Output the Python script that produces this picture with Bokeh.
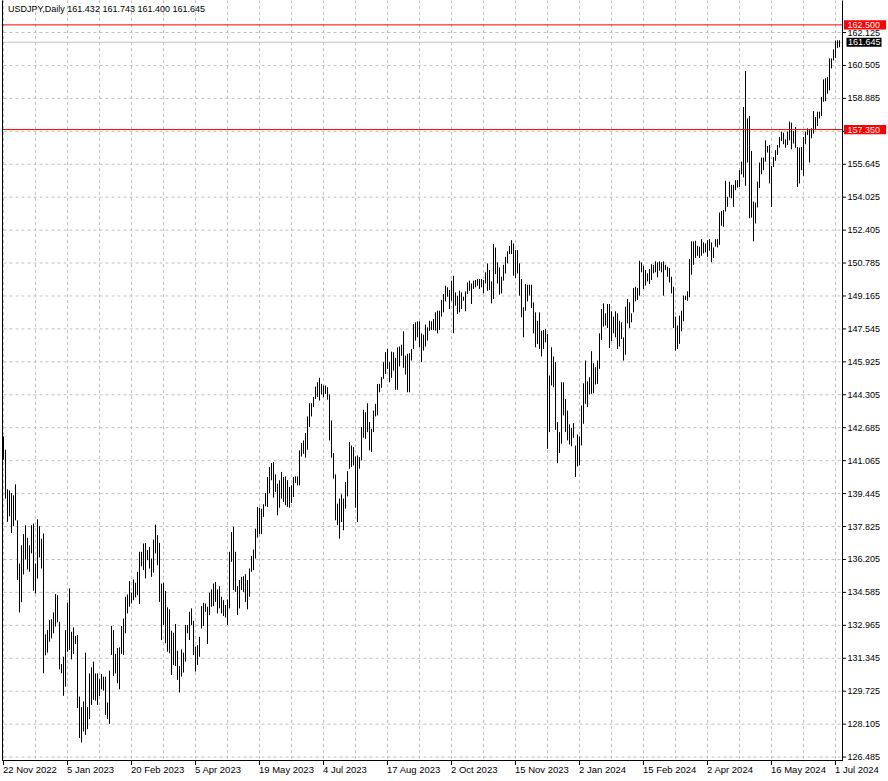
from bokeh.plotting import figure
from bokeh.models import Range1d, ColumnDataSource
from bokeh.core.properties import value
from bokeh.embed import file_html
from bokeh.resources import INLINE

symbol = "USDJPY,Daily"
last_ohlc = [161.432, 161.743, 161.400, 161.645]

# daily highs / lows, one bar per trading day from 22 Nov 2022 to 3 Jul 2024
high = [
    142.26, 141.60, 139.66, 139.60, 139.47, 139.36, 139.90, 138.13, 136.00, 136.90,
    137.45, 137.89, 137.27, 136.90, 137.89, 137.97, 136.00, 138.18, 137.84, 137.23,
    137.48, 132.52, 132.73, 133.22, 133.26, 133.60, 134.50, 134.45, 133.14, 131.06,
    131.42, 132.73, 134.07, 134.78, 132.65, 132.86, 132.44, 132.49, 129.46, 128.94,
    129.22, 131.62, 128.94, 130.60, 130.90, 131.18, 130.60, 130.60, 130.31, 130.57,
    130.44, 130.44, 129.17, 130.74, 132.93, 132.73, 131.56, 131.85, 131.88, 132.93,
    133.30, 134.37, 134.48, 135.14, 134.57, 135.22, 135.06, 135.60, 136.58, 136.58,
    136.99, 137.02, 136.66, 136.82, 136.25, 137.18, 137.92, 137.40, 137.02, 135.02,
    135.06, 134.66, 133.85, 133.75, 132.70, 132.60, 133.03, 131.72, 130.96, 131.78,
    131.62, 132.98, 132.98, 133.63, 133.80, 133.19, 131.92, 131.99, 132.40, 133.91,
    134.07, 134.04, 133.88, 134.57, 134.73, 135.02, 135.10, 134.73, 134.89, 134.37,
    134.20, 133.96, 134.24, 136.58, 137.56, 137.81, 136.58, 134.89, 135.19, 135.35,
    135.38, 135.48, 135.19, 135.76, 136.37, 136.69, 137.72, 138.79, 138.75, 138.70,
    138.92, 139.47, 140.26, 140.75, 140.95, 141.00, 140.39, 139.93, 140.10, 140.51,
    140.26, 140.29, 140.10, 139.77, 139.85, 140.26, 140.29, 140.29, 141.57, 141.93,
    142.06, 142.42, 143.24, 143.89, 143.89, 144.19, 144.71, 144.92, 145.14, 144.84,
    144.76, 144.76, 144.68, 144.32, 143.04, 141.44, 140.39, 138.95, 139.20, 139.41,
    139.20, 140.01, 140.55, 141.98, 141.81, 141.73, 141.27, 141.32, 141.24, 142.72,
    143.57, 143.45, 143.89, 142.96, 142.63, 143.53, 143.86, 144.84, 144.84, 145.17,
    145.91, 146.40, 146.56, 145.91, 146.43, 146.40, 146.12, 146.64, 146.68, 146.77,
    147.43, 146.23, 146.32, 146.35, 146.56, 147.79, 147.87, 147.92, 147.92, 147.33,
    147.26, 147.76, 147.62, 147.95, 147.92, 148.03, 148.36, 148.44, 148.44, 148.97,
    149.26, 149.67, 149.59, 149.46, 149.92, 150.16, 149.34, 149.18, 149.42, 149.34,
    149.13, 149.39, 149.83, 149.92, 149.78, 149.92, 149.95, 150.00, 150.00, 150.00,
    149.95, 150.33, 150.77, 150.44, 149.88, 151.72, 151.55, 150.82, 150.57, 150.11,
    150.70, 151.09, 151.36, 151.63, 151.91, 151.75, 151.42, 151.42, 150.77, 150.00,
    148.61, 149.75, 149.72, 149.72, 149.72, 148.85, 148.36, 147.95, 148.36, 147.46,
    147.49, 147.54, 147.30, 145.25, 146.64, 146.19, 145.91, 142.96, 142.47, 144.92,
    144.92, 144.10, 143.53, 142.85, 142.68, 142.91, 141.81, 142.35, 142.26, 143.78,
    144.87, 145.99, 144.97, 145.17, 146.45, 145.86, 145.66, 145.99, 147.33, 148.52,
    148.80, 148.31, 148.77, 148.77, 148.41, 148.15, 148.41, 148.31, 147.95, 147.87,
    147.13, 148.64, 149.02, 148.85, 148.31, 149.56, 149.62, 149.56, 150.90, 150.82,
    150.65, 150.44, 150.28, 150.49, 150.73, 150.70, 150.87, 150.82, 150.87, 150.82,
    150.87, 150.70, 150.60, 150.54, 150.11, 149.62, 148.15, 147.71, 148.20, 148.44,
    149.18, 149.18, 149.39, 150.98, 151.85, 151.85, 151.88, 151.63, 151.59, 151.96,
    151.80, 151.75, 151.91, 151.96, 151.80, 151.55, 151.96, 151.96, 153.27, 153.35,
    153.39, 154.83, 154.04, 154.79, 154.63, 154.63, 154.86, 154.86, 155.35, 155.77,
    158.46, 160.23, 157.90, 158.02, 156.30, 153.81, 153.76, 154.79, 155.73, 155.97,
    155.97, 156.82, 156.54, 156.59, 155.56, 156.00, 156.33, 156.59, 156.99, 157.25,
    157.20, 156.87, 157.25, 157.74, 157.69, 157.28, 157.48, 156.49, 156.46, 156.49,
    156.99, 157.25, 157.41, 157.36, 157.41, 158.26, 157.97, 158.23, 158.23, 158.95,
    159.82, 159.87, 159.93, 160.85, 160.85, 161.29, 161.73, 161.74, 161.743,
]
low = [
    141.11, 139.20, 138.05, 138.33, 137.51, 137.84, 138.13, 135.20, 133.60, 134.10,
    135.47, 136.20, 135.71, 135.60, 136.50, 134.67, 134.53, 135.27, 136.30, 135.76,
    130.61, 131.49, 131.62, 132.16, 132.32, 132.57, 132.90, 133.11, 130.80, 130.61,
    129.50, 129.95, 131.67, 131.75, 131.29, 131.56, 132.05, 128.89, 127.42, 127.20,
    127.74, 127.58, 127.86, 128.35, 129.05, 129.30, 129.26, 129.05, 129.49, 129.82,
    129.75, 128.56, 128.35, 128.12, 131.51, 130.47, 130.60, 130.12, 129.82, 131.56,
    131.51, 132.57, 133.55, 133.88, 134.04, 134.20, 134.34, 134.45, 134.01, 135.87,
    135.68, 135.27, 136.17, 135.76, 135.35, 135.55, 136.50, 135.92, 134.12, 132.24,
    132.98, 132.08, 131.67, 131.59, 130.52, 131.01, 130.96, 130.28, 129.66, 130.44,
    130.64, 131.18, 132.57, 132.24, 132.98, 131.50, 130.69, 131.01, 131.42, 132.81,
    132.93, 133.63, 132.05, 133.47, 133.88, 133.91, 134.12, 133.55, 133.80, 133.55,
    133.42, 133.35, 132.98, 133.80, 136.09, 134.70, 134.61, 133.47, 133.80, 134.70,
    134.60, 134.12, 133.75, 134.37, 135.60, 135.68, 136.25, 137.28, 137.45, 137.45,
    138.30, 138.82, 138.79, 139.47, 140.10, 139.25, 139.52, 138.38, 138.75, 139.20,
    139.03, 138.87, 138.79, 138.75, 138.98, 139.28, 139.97, 139.85, 139.85, 141.27,
    141.40, 141.21, 141.60, 142.72, 143.24, 143.70, 144.10, 144.19, 144.02, 144.32,
    144.19, 144.35, 144.06, 142.06, 141.21, 140.18, 138.13, 137.89, 137.23, 138.05,
    137.64, 138.70, 139.31, 140.67, 140.75, 140.83, 138.75, 138.05, 140.67, 141.08,
    142.19, 142.14, 142.47, 141.57, 141.49, 142.47, 143.24, 143.29, 144.43, 144.65,
    145.09, 145.33, 145.58, 144.92, 145.14, 145.50, 144.55, 144.55, 145.70, 146.23,
    145.63, 145.30, 144.43, 144.43, 145.99, 146.56, 146.97, 147.13, 146.64, 145.91,
    146.48, 146.68, 146.97, 147.46, 147.49, 147.49, 147.46, 147.33, 147.49, 148.15,
    148.36, 148.90, 149.13, 148.52, 148.93, 147.33, 148.69, 148.28, 148.36, 148.52,
    148.93, 148.41, 149.26, 149.42, 148.77, 149.51, 149.59, 149.67, 149.51, 149.59,
    149.29, 149.78, 149.42, 149.46, 148.80, 149.02, 150.24, 149.78, 149.23, 149.29,
    149.92, 150.27, 150.77, 151.23, 151.23, 150.16, 150.05, 150.27, 149.18, 148.12,
    147.13, 148.44, 148.90, 149.18, 148.57, 147.33, 146.64, 146.81, 146.56, 146.19,
    146.56, 146.89, 141.65, 142.47, 144.76, 144.68, 142.58, 140.94, 141.44, 141.90,
    143.29, 142.47, 142.06, 141.86, 141.77, 142.19, 140.26, 140.78, 140.83, 141.81,
    142.88, 143.86, 143.70, 144.32, 144.35, 144.38, 144.81, 144.84, 145.58, 147.00,
    147.66, 147.71, 147.59, 146.61, 146.94, 147.33, 147.13, 146.56, 146.68, 147.05,
    145.99, 146.28, 147.82, 147.59, 147.87, 148.36, 148.90, 148.97, 149.18, 150.33,
    149.51, 149.67, 149.88, 149.75, 149.95, 150.28, 150.33, 150.08, 150.41, 150.33,
    149.18, 150.44, 150.11, 149.83, 149.29, 147.59, 146.48, 146.56, 146.81, 147.43,
    147.92, 148.97, 148.93, 149.10, 150.21, 150.70, 151.03, 151.14, 151.03, 151.14,
    151.26, 151.31, 151.09, 151.39, 150.82, 151.03, 151.59, 151.55, 151.68, 152.62,
    152.57, 153.32, 153.55, 154.01, 153.97, 153.55, 154.37, 154.50, 154.53, 155.15,
    154.99, 154.58, 155.73, 152.99, 153.02, 151.85, 152.73, 153.52, 154.47, 155.15,
    155.35, 155.77, 156.22, 154.70, 153.55, 155.51, 155.81, 156.10, 156.46, 156.79,
    156.63, 156.46, 156.59, 156.82, 156.38, 156.66, 156.46, 154.53, 154.70, 155.35,
    155.07, 156.63, 157.08, 155.73, 156.92, 157.15, 157.36, 157.53, 157.90, 158.02,
    158.72, 158.75, 159.11, 159.28, 160.36, 160.75, 160.88, 161.37, 161.400,
]

price_ticks = [126.485, 128.105, 129.725, 131.345, 132.965, 134.585, 136.205,
               137.825, 139.445, 141.065, 142.685, 144.305, 145.925, 147.545,
               149.165, 150.785, 152.405, 154.025, 155.645, 157.265, 158.885,
               160.505, 162.125]
date_ticks = [0, 32, 64, 96, 128, 160, 192, 224, 256, 288, 320, 352, 384, 416]
date_labels = ["22 Nov 2022", "5 Jan 2023", "20 Feb 2023", "5 Apr 2023",
               "19 May 2023", "4 Jul 2023", "17 Aug 2023", "2 Oct 2023",
               "15 Nov 2023", "2 Jan 2024", "15 Feb 2024", "2 Apr 2024",
               "16 May 2024", "1 Jul 2024"]
grid_x = [0, 16, 32, 48, 64, 80, 96, 112, 128, 144, 160, 176, 192, 208, 224,
          240, 256, 272, 288, 304, 320, 336, 352, 368, 384, 400, 416]
red_levels = [162.500, 157.350]
bid = last_ohlc[3]

# ---------------------------------------------------------------- layout
W, H = 888, 781
PX_PER_BAR = 2.0
PX_PER_YEN = 20.33
OFF = 0.5                      # half-pixel shift so 1px strokes land crisp
XL = -1.75 + OFF / PX_PER_BAR
XR = XL + W / PX_PER_BAR
YT = price_ticks[-1] + 32.0 / PX_PER_YEN
YB = YT - H / PX_PER_YEN


def sx(px):
    return XL + (px - OFF) / PX_PER_BAR


def sy(py):
    return YT - (py - OFF) / PX_PER_YEN


FONT = value("Liberation Sans")

p = figure(width=W, height=H, output_backend="svg", toolbar_location=None,
           x_range=Range1d(XL, XR), y_range=Range1d(YB, YT),
           x_axis_location=None, y_axis_location=None,
           min_border=0, min_border_left=0, min_border_right=0,
           min_border_top=0, min_border_bottom=0)
p.outline_line_color = None
p.grid.visible = False
p.background_fill_color = "white"
p.border_fill_color = "white"

left_px, right_px, bottom_px = 2.5, 842.5, 760.5

# grid
p.segment(x0=grid_x, y0=[sy(0)] * len(grid_x), x1=grid_x,
          y1=[sy(bottom_px)] * len(grid_x),
          line_color="#C0C0C0", line_width=1, line_dash="3 3")
p.segment(x0=[sx(left_px + 1)] * len(price_ticks), y0=price_ticks,
          x1=[sx(right_px)] * len(price_ticks), y1=price_ticks,
          line_color="#C0C0C0", line_width=1, line_dash="3 3")

# bid line
p.segment(x0=[sx(left_px)], y0=[bid], x1=[sx(right_px)], y1=[bid],
          line_color="#C0C0C0", line_width=1)

# bars (high-low lines)
n = min(len(high), len(low))
src = ColumnDataSource(dict(i=list(range(n)), h=high[:n], l=low[:n]))
p.segment(x0="i", y0="l", x1="i", y1="h", source=src,
          line_color="black", line_width=1)

# horizontal level lines
p.segment(x0=[sx(left_px)] * 2, y0=red_levels, x1=[sx(right_px)] * 2,
          y1=red_levels, line_color="#FF0000", line_width=1)

# frame (left, right, bottom)
p.segment(x0=[sx(left_px), sx(right_px), sx(left_px - 0.5)],
          y0=[sy(0), sy(0), sy(bottom_px)],
          x1=[sx(left_px), sx(right_px), sx(right_px + 0.5)],
          y1=[sy(bottom_px), sy(bottom_px + 0.5), sy(bottom_px)],
          line_color="black", line_width=1)

# bottom tick marks
p.segment(x0=date_ticks, y0=[sy(bottom_px)] * len(date_ticks),
          x1=date_ticks, y1=[sy(bottom_px + 4.5)] * len(date_ticks),
          line_color="black", line_width=1)
# right tick marks
p.segment(x0=[sx(right_px)] * len(price_ticks), y0=price_ticks,
          x1=[sx(right_px + 3.5)] * len(price_ticks), y1=price_ticks,
          line_color="black", line_width=1)

# price scale labels (157.265 sits under the red tag in the original)
shown = [t for t in price_ticks if abs(t - 157.265) > 1e-6]
p.text(x=[sx(847.5)] * len(shown), y=shown, text=["%.3f" % t for t in shown],
       text_font=FONT, text_font_size="9px", text_color="black",
       text_align="left", text_baseline="middle")

# date labels
p.text(x=date_ticks, y=[sy(769)] * len(date_ticks), text=date_labels,
       x_offset=-0.5, text_font=FONT, text_font_size="9.5px",
       text_color="black", text_align="left", text_baseline="middle")

# header
hdr = "%s  %.3f %.3f %.3f %.3f" % (symbol, *last_ohlc)
p.text(x=[sx(8)], y=[sy(9.3)], text=[hdr], text_font=FONT,
       text_font_size="9px", text_color="black", text_align="left",
       text_baseline="middle")

# price tags on the scale
tag_h = 4.6 / PX_PER_YEN
p.quad(left=[sx(844)] * 2, right=[sx(886)] * 2,
       bottom=[v - tag_h for v in red_levels],
       top=[v + tag_h for v in red_levels],
       fill_color="#FF0000", line_color=None)
p.quad(left=[sx(846.5)], right=[sx(881.5)], bottom=[bid - tag_h],
       top=[bid + tag_h], fill_color="black", line_color=None)
p.text(x=[sx(847.5)] * 2 + [sx(848)], y=red_levels + [bid],
       text=["%.3f" % v for v in red_levels] + ["%.3f" % bid],
       text_font=FONT, text_font_size="9px", text_color="white",
       text_align="left", text_baseline="middle")

open("out.html", "w").write(file_html(p, INLINE))
